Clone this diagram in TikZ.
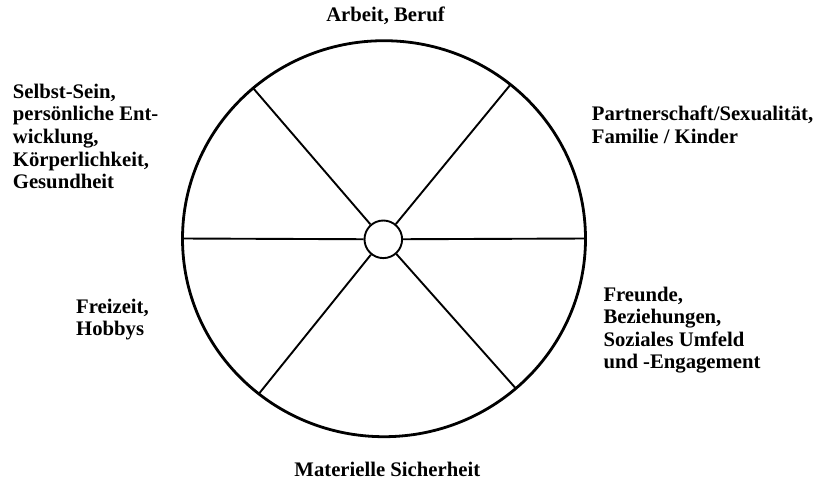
\documentclass[tikz,border=0pt]{standalone}
\usepackage{fontspec}
\setmainfont{Liberation Serif}
\begin{document}
\begin{tikzpicture}[x=1pt,y=-1pt,
  lbl/.style={inner sep=0pt, font=\fontsize{20.7}{22.6}\selectfont\bfseries},
  rim/.style={line width=2.8pt},
  spoke/.style={line width=1.9pt},
  hubstyle/.style={circle, draw, line width=1.9pt, minimum size=37.6pt, inner sep=0pt, fill=white}]
\useasboundingbox (0,0) rectangle (818,483);
% outer rim
\draw[rim] (384,238.7) ellipse [x radius=201.5, y radius=198];
% hub
\node[hubstyle] (hub) at (383.3,239.3) {};
% rim points
\coordinate (l)  at (182.6,238.5);
\coordinate (r)  at (585.4,238.5);
\coordinate (ul) at (253.3,88.3);
\coordinate (ur) at (510.5,84.6);
\coordinate (ll) at (259.5,393.0);
\coordinate (lr) at (515.7,388.3);
% spokes
\draw[spoke] (hub) -- (l);
\draw[spoke] (hub) -- (r);
\draw[spoke] (hub) -- (ul);
\draw[spoke] (hub) -- (ur);
\draw[spoke] (hub) -- (ll);
\draw[spoke] (hub) -- (lr);
% labels
\node[lbl, anchor=base] (arbeit) at (385.5,21.7) {Arbeit, Beruf};
\node[lbl, anchor=base west] (selbst) at (12.7,98.3) {\begin{tabular}[t]{@{}l@{}}Selbst-Sein,\\ persönliche Ent-\\ wicklung,\\ Körperlichkeit,\\ Gesundheit\end{tabular}};
\node[lbl, anchor=base west] (partner) at (591.7,120.5) {\begin{tabular}[t]{@{}l@{}}Partnerschaft/Sexualität,\\ Familie / Kinder\end{tabular}};
\node[lbl, anchor=base west] (freunde) at (603.3,301) {\begin{tabular}[t]{@{}l@{}}Freunde,\\ Beziehungen,\\ Soziales Umfeld\\ und -Engagement\end{tabular}};
\node[lbl, anchor=base west] (freizeit) at (76,313) {\begin{tabular}[t]{@{}l@{}}Freizeit,\\ Hobbys\end{tabular}};
\node[lbl, anchor=base] (materiell) at (387.3,476.7) {Materielle Sicherheit};
\end{tikzpicture}
\end{document}
